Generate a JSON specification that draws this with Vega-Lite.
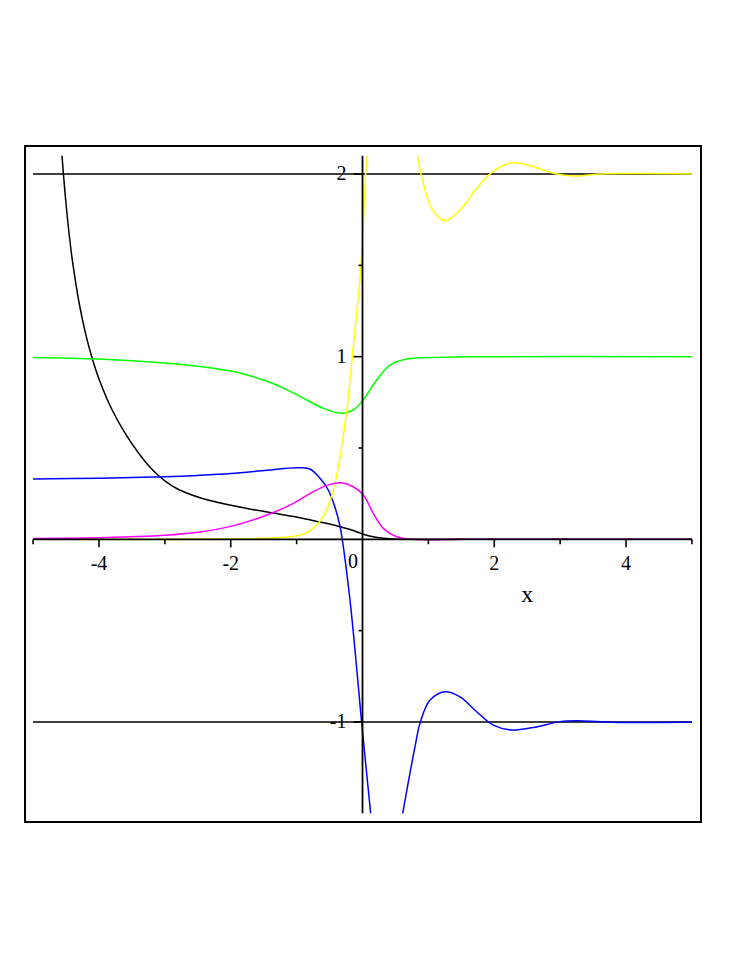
{
  "$schema": "https://vega.github.io/schema/vega-lite/v6.json",
  "width": 676,
  "height": 676,
  "autosize": "none",
  "padding": {"left": 25, "top": 146, "right": 46, "bottom": 145},
  "background": "white",
  "config": {"view": {"stroke": "black", "strokeWidth": 2}},
  "datasets": {
    "curves": [
      {"s": "black", "g": "k", "x": -4.561, "y": 2.1},
      {"s": "black", "g": "k", "x": -4.54, "y": 2.0},
      {"s": "black", "g": "k", "x": -4.5, "y": 1.836},
      {"s": "black", "g": "k", "x": -4.45, "y": 1.662},
      {"s": "black", "g": "k", "x": -4.4, "y": 1.517},
      {"s": "black", "g": "k", "x": -4.3, "y": 1.291},
      {"s": "black", "g": "k", "x": -4.2, "y": 1.121},
      {"s": "black", "g": "k", "x": -4.1, "y": 0.987},
      {"s": "black", "g": "k", "x": -4.0, "y": 0.878},
      {"s": "black", "g": "k", "x": -3.8, "y": 0.708},
      {"s": "black", "g": "k", "x": -3.6, "y": 0.579},
      {"s": "black", "g": "k", "x": -3.4, "y": 0.473},
      {"s": "black", "g": "k", "x": -3.2, "y": 0.385},
      {"s": "black", "g": "k", "x": -3.0, "y": 0.32},
      {"s": "black", "g": "k", "x": -2.8, "y": 0.274},
      {"s": "black", "g": "k", "x": -2.5, "y": 0.232},
      {"s": "black", "g": "k", "x": -2.0, "y": 0.186},
      {"s": "black", "g": "k", "x": -1.6, "y": 0.159},
      {"s": "black", "g": "k", "x": -1.3, "y": 0.141},
      {"s": "black", "g": "k", "x": -1.0, "y": 0.122},
      {"s": "black", "g": "k", "x": -0.8, "y": 0.107},
      {"s": "black", "g": "k", "x": -0.57, "y": 0.089},
      {"s": "black", "g": "k", "x": -0.34, "y": 0.069},
      {"s": "black", "g": "k", "x": -0.12, "y": 0.046},
      {"s": "black", "g": "k", "x": 0.01, "y": 0.028},
      {"s": "black", "g": "k", "x": 0.2, "y": 0.011},
      {"s": "black", "g": "k", "x": 0.4, "y": 0.003},
      {"s": "black", "g": "k", "x": 0.7, "y": 0.0},
      {"s": "black", "g": "k", "x": 1.5, "y": 0.0},
      {"s": "black", "g": "k", "x": 5.0, "y": 0.0},

      {"s": "green", "g": "g", "x": -5.0, "y": 0.996},
      {"s": "green", "g": "g", "x": -4.0, "y": 0.987},
      {"s": "green", "g": "g", "x": -3.0, "y": 0.965},
      {"s": "green", "g": "g", "x": -2.5, "y": 0.947},
      {"s": "green", "g": "g", "x": -2.0, "y": 0.921},
      {"s": "green", "g": "g", "x": -1.75, "y": 0.9},
      {"s": "green", "g": "g", "x": -1.45, "y": 0.865},
      {"s": "green", "g": "g", "x": -1.2, "y": 0.828},
      {"s": "green", "g": "g", "x": -0.95, "y": 0.783},
      {"s": "green", "g": "g", "x": -0.595, "y": 0.717},
      {"s": "green", "g": "g", "x": -0.316, "y": 0.69},
      {"s": "green", "g": "g", "x": -0.14, "y": 0.708},
      {"s": "green", "g": "g", "x": 0.01, "y": 0.763},
      {"s": "green", "g": "g", "x": 0.215, "y": 0.872},
      {"s": "green", "g": "g", "x": 0.417, "y": 0.954},
      {"s": "green", "g": "g", "x": 0.67, "y": 0.987},
      {"s": "green", "g": "g", "x": 0.87, "y": 0.994},
      {"s": "green", "g": "g", "x": 1.5, "y": 0.999},
      {"s": "green", "g": "g", "x": 5.0, "y": 1.0},

      {"s": "blue", "g": "b1", "x": -5.0, "y": 0.33},
      {"s": "blue", "g": "b1", "x": -4.0, "y": 0.335},
      {"s": "blue", "g": "b1", "x": -3.0, "y": 0.343},
      {"s": "blue", "g": "b1", "x": -2.5, "y": 0.35},
      {"s": "blue", "g": "b1", "x": -2.0, "y": 0.36},
      {"s": "blue", "g": "b1", "x": -1.45, "y": 0.378},
      {"s": "blue", "g": "b1", "x": -1.0, "y": 0.392},
      {"s": "blue", "g": "b1", "x": -0.8, "y": 0.385},
      {"s": "blue", "g": "b1", "x": -0.645, "y": 0.334},
      {"s": "blue", "g": "b1", "x": -0.52, "y": 0.27},
      {"s": "blue", "g": "b1", "x": -0.42, "y": 0.178},
      {"s": "blue", "g": "b1", "x": -0.34, "y": 0.069},
      {"s": "blue", "g": "b1", "x": -0.307, "y": 0.0},
      {"s": "blue", "g": "b1", "x": -0.19, "y": -0.332},
      {"s": "blue", "g": "b1", "x": -0.114, "y": -0.606},
      {"s": "blue", "g": "b1", "x": -0.012, "y": -1.007},
      {"s": "blue", "g": "b1", "x": 0.124, "y": -1.5},
      {"s": "blue", "g": "b2", "x": 0.61, "y": -1.5},
      {"s": "blue", "g": "b2", "x": 0.72, "y": -1.281},
      {"s": "blue", "g": "b2", "x": 0.797, "y": -1.135},
      {"s": "blue", "g": "b2", "x": 0.873, "y": -1.007},
      {"s": "blue", "g": "b2", "x": 1.025, "y": -0.88},
      {"s": "blue", "g": "b2", "x": 1.252, "y": -0.834},
      {"s": "blue", "g": "b2", "x": 1.48, "y": -0.862},
      {"s": "blue", "g": "b2", "x": 1.733, "y": -0.944},
      {"s": "blue", "g": "b2", "x": 1.986, "y": -1.017},
      {"s": "blue", "g": "b2", "x": 2.265, "y": -1.044},
      {"s": "blue", "g": "b2", "x": 2.593, "y": -1.03},
      {"s": "blue", "g": "b2", "x": 2.998, "y": -0.998},
      {"s": "blue", "g": "b2", "x": 3.25, "y": -0.993},
      {"s": "blue", "g": "b2", "x": 3.605, "y": -0.998},
      {"s": "blue", "g": "b2", "x": 4.01, "y": -1.003},
      {"s": "blue", "g": "b2", "x": 5.0, "y": -1.0},

      {"s": "yellow", "g": "y1", "x": -5.0, "y": 0.0},
      {"s": "yellow", "g": "y1", "x": -2.5, "y": 0.0},
      {"s": "yellow", "g": "y1", "x": -1.7, "y": 0.004},
      {"s": "yellow", "g": "y1", "x": -1.3, "y": 0.009},
      {"s": "yellow", "g": "y1", "x": -1.05, "y": 0.016},
      {"s": "yellow", "g": "y1", "x": -0.85, "y": 0.035},
      {"s": "yellow", "g": "y1", "x": -0.695, "y": 0.08},
      {"s": "yellow", "g": "y1", "x": -0.595, "y": 0.124},
      {"s": "yellow", "g": "y1", "x": -0.443, "y": 0.27},
      {"s": "yellow", "g": "y1", "x": -0.34, "y": 0.452},
      {"s": "yellow", "g": "y1", "x": -0.266, "y": 0.635},
      {"s": "yellow", "g": "y1", "x": -0.24, "y": 0.7},
      {"s": "yellow", "g": "y1", "x": -0.155, "y": 1.0},
      {"s": "yellow", "g": "y1", "x": -0.023, "y": 1.5},
      {"s": "yellow", "g": "y1", "x": 0.048, "y": 2.0},
      {"s": "yellow", "g": "y1", "x": 0.073, "y": 2.1},
      {"s": "yellow", "g": "y2", "x": 0.832, "y": 2.1},
      {"s": "yellow", "g": "y2", "x": 0.923, "y": 1.949},
      {"s": "yellow", "g": "y2", "x": 1.05, "y": 1.812},
      {"s": "yellow", "g": "y2", "x": 1.252, "y": 1.744},
      {"s": "yellow", "g": "y2", "x": 1.48, "y": 1.803},
      {"s": "yellow", "g": "y2", "x": 1.733, "y": 1.921},
      {"s": "yellow", "g": "y2", "x": 1.96, "y": 2.007},
      {"s": "yellow", "g": "y2", "x": 2.265, "y": 2.062},
      {"s": "yellow", "g": "y2", "x": 2.593, "y": 2.04},
      {"s": "yellow", "g": "y2", "x": 2.9, "y": 2.004},
      {"s": "yellow", "g": "y2", "x": 3.2, "y": 1.989},
      {"s": "yellow", "g": "y2", "x": 3.605, "y": 2.0},
      {"s": "yellow", "g": "y2", "x": 5.0, "y": 2.0},

      {"s": "magenta", "g": "m", "x": -5.0, "y": 0.004},
      {"s": "magenta", "g": "m", "x": -4.0, "y": 0.009},
      {"s": "magenta", "g": "m", "x": -3.5, "y": 0.014},
      {"s": "magenta", "g": "m", "x": -3.0, "y": 0.022},
      {"s": "magenta", "g": "m", "x": -2.5, "y": 0.039},
      {"s": "magenta", "g": "m", "x": -2.0, "y": 0.071},
      {"s": "magenta", "g": "m", "x": -1.45, "y": 0.133},
      {"s": "magenta", "g": "m", "x": -1.05, "y": 0.197},
      {"s": "magenta", "g": "m", "x": -0.747, "y": 0.261},
      {"s": "magenta", "g": "m", "x": -0.493, "y": 0.301},
      {"s": "magenta", "g": "m", "x": -0.316, "y": 0.31},
      {"s": "magenta", "g": "m", "x": -0.14, "y": 0.288},
      {"s": "magenta", "g": "m", "x": 0.012, "y": 0.243},
      {"s": "magenta", "g": "m", "x": 0.164, "y": 0.142},
      {"s": "magenta", "g": "m", "x": 0.316, "y": 0.06},
      {"s": "magenta", "g": "m", "x": 0.52, "y": 0.014},
      {"s": "magenta", "g": "m", "x": 0.77, "y": 0.0},
      {"s": "magenta", "g": "m", "x": 1.5, "y": 0.0},
      {"s": "magenta", "g": "m", "x": 5.0, "y": 0.0}
    ],
    "hlines": [{"v": 2}, {"v": -1}],
    "xaxis": [{"v": 0}],
    "yaxis": [{"lo": -1.5, "hi": 2.1}],
    "xmajor": [{"v": -4}, {"v": -2}, {"v": 2}, {"v": 4}],
    "xminor": [{"v": -5}, {"v": -3}, {"v": -1}, {"v": 1}, {"v": 3}, {"v": 5}],
    "ymajor": [{"v": -1}, {"v": 1}, {"v": 2}],
    "yminor": [{"v": -0.5}, {"v": 0.5}, {"v": 1.5}],
    "xlabels": [{"v": -4, "t": "-4"}, {"v": -2, "t": "-2"}, {"v": 2, "t": "2"}, {"v": 4, "t": "4"}],
    "zerolabel": [{"v": 0, "t": "0"}],
    "ylabels": [{"v": 2, "t": "2"}, {"v": 1, "t": "1"}, {"v": -1, "t": "-1"}],
    "xtitle": [{"t": "x"}]
  },
  "layer": [
    {
      "data": {"name": "hlines"},
      "mark": {"type": "rule", "color": "black", "strokeWidth": 1.6},
      "encoding": {
        "x": {"datum": -5, "type": "quantitative", "scale": {"domain": [-5.123, 5.138], "nice": false, "zero": false}, "axis": null},
        "x2": {"datum": 5},
        "y": {"field": "v", "type": "quantitative", "scale": {"domain": [-1.5475, 2.1533], "nice": false, "zero": false}, "axis": null}
      }
    },
    {
      "data": {"name": "curves"},
      "mark": {"type": "line", "strokeWidth": 1.5, "interpolate": "catmull-rom", "clip": true},
      "encoding": {
        "x": {"field": "x", "type": "quantitative", "scale": {"domain": [-5.123, 5.138], "nice": false, "zero": false}, "axis": null},
        "y": {"field": "y", "type": "quantitative", "scale": {"domain": [-1.5475, 2.1533], "nice": false, "zero": false}, "axis": null},
        "color": {"field": "s", "type": "nominal", "scale": {"domain": ["black", "green", "blue", "yellow", "magenta"], "range": ["#000000", "#00ff00", "#0000ff", "#ffff00", "#ff00ff"]}, "legend": null},
        "detail": {"field": "g", "type": "nominal"}
      }
    },
    {
      "data": {"name": "xaxis"},
      "mark": {"type": "rule", "color": "black", "strokeWidth": 1.8},
      "encoding": {
        "x": {"datum": -5, "type": "quantitative", "axis": null},
        "x2": {"datum": 5},
        "y": {"field": "v", "type": "quantitative", "axis": null}
      }
    },
    {
      "data": {"name": "yaxis"},
      "mark": {"type": "rule", "color": "black", "strokeWidth": 1.8},
      "encoding": {
        "x": {"datum": 0, "type": "quantitative", "axis": null},
        "y": {"field": "lo", "type": "quantitative", "axis": null},
        "y2": {"field": "hi"}
      }
    },
    {
      "data": {"name": "xmajor"},
      "mark": {"type": "rule", "color": "black", "strokeWidth": 1.6},
      "encoding": {
        "x": {"field": "v", "type": "quantitative", "axis": null},
        "y": {"datum": 0, "type": "quantitative", "axis": null},
        "y2": {"datum": -0.044}
      }
    },
    {
      "data": {"name": "xminor"},
      "mark": {"type": "rule", "color": "black", "strokeWidth": 1.6},
      "encoding": {
        "x": {"field": "v", "type": "quantitative", "axis": null},
        "y": {"datum": 0, "type": "quantitative", "axis": null},
        "y2": {"datum": -0.027}
      }
    },
    {
      "data": {"name": "ymajor"},
      "mark": {"type": "rule", "color": "black", "strokeWidth": 1.6},
      "encoding": {
        "y": {"field": "v", "type": "quantitative", "axis": null},
        "x": {"datum": -0.137, "type": "quantitative", "axis": null},
        "x2": {"datum": 0}
      }
    },
    {
      "data": {"name": "yminor"},
      "mark": {"type": "rule", "color": "black", "strokeWidth": 1.6},
      "encoding": {
        "y": {"field": "v", "type": "quantitative", "axis": null},
        "x": {"datum": -0.06, "type": "quantitative", "axis": null},
        "x2": {"datum": 0}
      }
    },
    {
      "data": {"name": "xlabels"},
      "mark": {"type": "text", "font": "Liberation Serif", "fontSize": 20, "align": "center", "baseline": "middle", "color": "black"},
      "encoding": {
        "x": {"field": "v", "type": "quantitative", "axis": null},
        "y": {"datum": -0.135, "type": "quantitative", "axis": null},
        "text": {"field": "t"}
      }
    },
    {
      "data": {"name": "zerolabel"},
      "mark": {"type": "text", "font": "Liberation Serif", "fontSize": 20, "align": "center", "baseline": "middle", "color": "black", "dx": -9.5, "dy": -2},
      "encoding": {
        "x": {"field": "v", "type": "quantitative", "axis": null},
        "y": {"datum": -0.135, "type": "quantitative", "axis": null},
        "text": {"field": "t"}
      }
    },
    {
      "data": {"name": "ylabels"},
      "mark": {"type": "text", "font": "Liberation Serif", "fontSize": 20, "align": "right", "baseline": "middle", "color": "black", "dx": -16},
      "encoding": {
        "x": {"datum": 0, "type": "quantitative", "axis": null},
        "y": {"field": "v", "type": "quantitative", "axis": null},
        "text": {"field": "t"}
      }
    },
    {
      "data": {"name": "xtitle"},
      "mark": {"type": "text", "font": "Liberation Serif", "fontSize": 24, "align": "center", "baseline": "middle", "color": "black"},
      "encoding": {
        "x": {"datum": 2.5, "type": "quantitative", "axis": null},
        "y": {"datum": -0.304, "type": "quantitative", "axis": null},
        "text": {"field": "t"}
      }
    }
  ]
}
